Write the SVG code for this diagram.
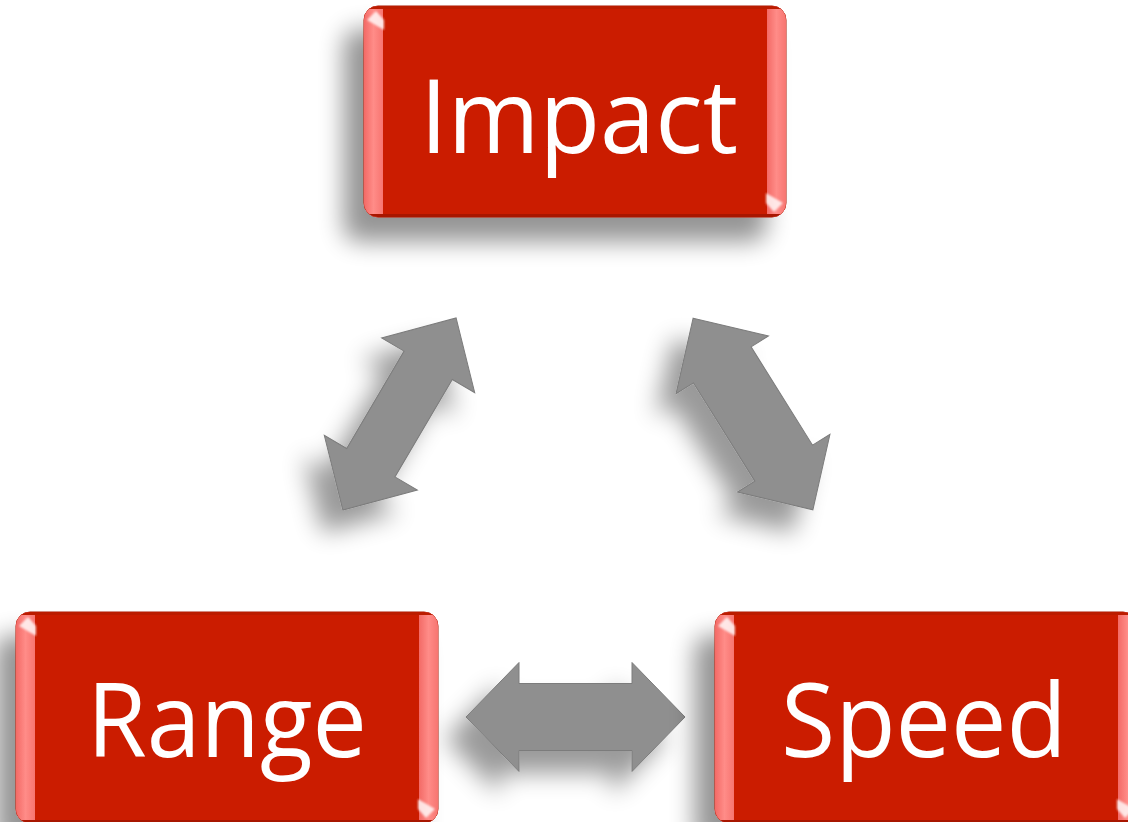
<svg xmlns="http://www.w3.org/2000/svg" width="1128" height="822" viewBox="0 0 1128 822">
  <style>
    .label { font-family: "Open Sans", "Noto Sans", "Liberation Sans", sans-serif; font-size: 102px; fill: #ffffff; text-anchor: middle; }
    .arrow { fill: #8f8f8f; stroke: #7c7c7c; stroke-width: 1; stroke-linejoin: miter; }
    .hl { fill: none; stroke: #d8d8d8; stroke-width: 3; stroke-linecap: round; opacity: 0.7; }
  </style>
  <defs>
    <filter id="boxShadow" x="-25%" y="-25%" width="150%" height="170%">
      <feGaussianBlur in="SourceAlpha" stdDeviation="12"/>
      <feOffset dx="-20" dy="24" result="b"/>
      <feComponentTransfer><feFuncA type="linear" slope="0.42"/></feComponentTransfer>
      <feMerge><feMergeNode/><feMergeNode in="SourceGraphic"/></feMerge>
    </filter>
    <filter id="arrowShadow" x="-50%" y="-50%" width="200%" height="200%">
      <feGaussianBlur in="SourceAlpha" stdDeviation="12"/>
      <feOffset dx="-20" dy="22" result="b"/>
      <feComponentTransfer><feFuncA type="linear" slope="0.4"/></feComponentTransfer>
      <feMerge><feMergeNode/><feMergeNode in="SourceGraphic"/></feMerge>
    </filter>
    <filter id="soft" x="-50%" y="-50%" width="200%" height="200%">
      <feGaussianBlur stdDeviation="1.2"/>
    </filter>
    <linearGradient id="stripGrad" x1="0" y1="0" x2="1" y2="0">
      <stop offset="0" stop-color="#f36a66"/>
      <stop offset="0.5" stop-color="#ff8c88"/>
      <stop offset="1" stop-color="#f77570"/>
    </linearGradient>
    <clipPath id="boxClip">
      <rect x="0" y="0" width="422" height="211" rx="14" ry="14"/>
    </clipPath>
    <g id="box">
      <rect x="0" y="0" width="422" height="211" rx="14" ry="14" fill="#cb1c00" stroke="#a81600" stroke-width="1"/>
      <g clip-path="url(#boxClip)">
        <rect x="0" y="0" width="19" height="211" fill="url(#stripGrad)"/>
        <rect x="403" y="0" width="19" height="211" fill="url(#stripGrad)"/>
        <rect x="0" y="0" width="422" height="3" fill="#bb1a00"/>
        <rect x="0" y="208" width="422" height="3" fill="#a81500"/>
        <polygon points="3,14 12,5 20,14 20,24" fill="#ffffff" opacity="0.8" filter="url(#soft)"/>
        <polygon points="402,187 402,197 410,206 419,197" fill="#ffffff" opacity="0.8" filter="url(#soft)"/>
      </g>
    </g>
  </defs>

  <rect x="0" y="0" width="1128" height="822" fill="#ffffff"/>

  <g id="connectors">
    <g id="arrow-range-impact" filter="url(#arrowShadow)">
      <g transform="translate(399.5,414) rotate(-59.5)">
        <polygon class="arrow" points="-111.5,0 -56.5,-54 -56.5,-28 56.5,-28 56.5,-54 111.5,0 56.5,54 56.5,28 -56.5,28 -56.5,54"/>
        <line class="hl" x1="-53" y1="-25" x2="53" y2="-25" filter="url(#soft)"/>
        <line class="hl" x1="-53" y1="25" x2="53" y2="25" opacity="0.45" filter="url(#soft)"/>
      </g>
    </g>
    <g id="arrow-impact-speed" filter="url(#arrowShadow)">
      <g transform="translate(753,414) rotate(58)">
        <polygon class="arrow" points="-113,0 -58,-54.5 -58,-34 58,-34 58,-54.5 113,0 58,54.5 58,34 -58,34 -58,54.5"/>
        <line class="hl" x1="-56" y1="31" x2="-56" y2="50" opacity="0.6" filter="url(#soft)"/>
        <line class="hl" x1="56" y1="-31" x2="56" y2="-50" opacity="0.6" filter="url(#soft)"/>
      </g>
    </g>
    <g id="arrow-range-speed" filter="url(#arrowShadow)">
      <g transform="translate(575.5,717)">
        <polygon class="arrow" points="-109.5,0 -56.5,-54.5 -56.5,-33.5 56.5,-33.5 56.5,-54.5 109.5,0 56.5,54.5 56.5,33.5 -56.5,33.5 -56.5,54.5"/>
      </g>
    </g>
  </g>

  <g id="node-impact">
    <use href="#box" transform="translate(364,6)" filter="url(#boxShadow)"/>
    <text class="label" x="579" y="153" textLength="318" lengthAdjust="spacingAndGlyphs">Impact</text>
  </g>

  <g id="node-range">
    <use href="#box" transform="translate(16,612)" filter="url(#boxShadow)"/>
    <text class="label" x="227" y="757" textLength="280" lengthAdjust="spacingAndGlyphs">Range</text>
  </g>

  <g id="node-speed">
    <use href="#box" transform="translate(715,612)" filter="url(#boxShadow)"/>
    <text class="label" x="924" y="757" textLength="286" lengthAdjust="spacingAndGlyphs">Speed</text>
  </g>
</svg>
